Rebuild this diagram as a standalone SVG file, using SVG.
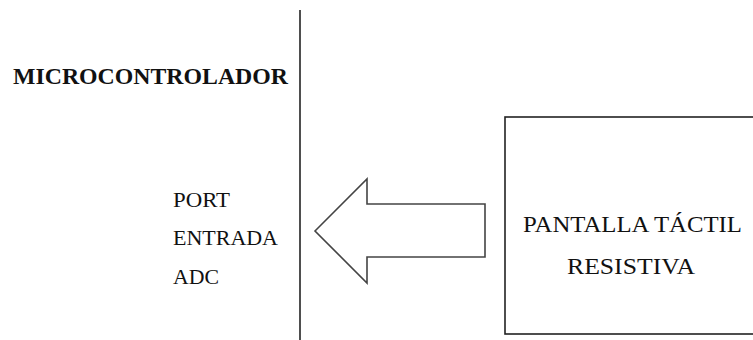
<svg xmlns="http://www.w3.org/2000/svg" width="753" height="340" viewBox="0 0 753 340">
  <style>
    .ln { fill: none; stroke: #222; stroke-width: 1.6; }
    .arrow { fill: #fff; stroke: #444; stroke-width: 1.6; stroke-linejoin: miter; }
    .t { font-family: "Liberation Serif", "Times New Roman", serif; fill: #111; }
    .b { font-weight: bold; }
  </style>
  <rect x="0" y="0" width="753" height="340" fill="#fff"/>

  <g id="microcontrolador">
    <line class="ln" x1="300" y1="10" x2="300" y2="340"/>
    <text class="t b" x="13" y="84" font-size="24" textLength="275" lengthAdjust="spacingAndGlyphs">MICROCONTROLADOR</text>
    <text class="t" x="173" y="207" font-size="21" textLength="57" lengthAdjust="spacingAndGlyphs">PORT</text>
    <text class="t" x="173" y="245" font-size="21" textLength="105" lengthAdjust="spacingAndGlyphs">ENTRADA</text>
    <text class="t" x="173" y="284" font-size="21" textLength="46" lengthAdjust="spacingAndGlyphs">ADC</text>
  </g>

  <g id="pantalla">
    <rect class="ln" x="505" y="117" width="260" height="217"/>
    <text class="t" x="523" y="232" font-size="24" textLength="219" lengthAdjust="spacingAndGlyphs">PANTALLA TÁCTIL</text>
    <text class="t" x="567" y="274" font-size="24" textLength="128" lengthAdjust="spacingAndGlyphs">RESISTIVA</text>
  </g>

  <g id="connectors">
    <polygon class="arrow" points="315,231 367,179 367,204 485,204 485,257 367,257 367,283"/>
  </g>
</svg>
